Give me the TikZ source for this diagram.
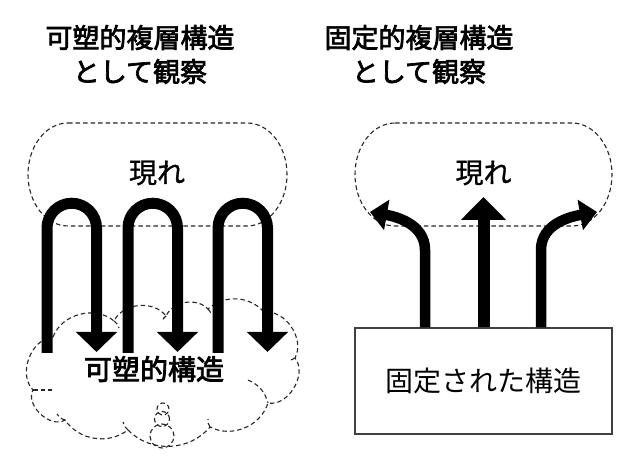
\documentclass[tikz,border=0pt]{standalone}
\usepackage{fontspec}
\newfontfamily\cjk{Noto Sans CJK JP}
\newcommand\embold[2]{\special{pdf:literal direct 2 Tr #1 w}#2\special{pdf:literal direct 0 Tr}}
\usetikzlibrary{arrows.meta}
\begin{document}
\begin{tikzpicture}[x=1pt,y=1pt,
  dashln/.style={draw=black!85, line width=1.1pt, dash pattern=on 4.5pt off 3pt},
  titletxt/.style={align=center, inner sep=0pt, font=\cjk\fontsize{27}{34}\selectfont},
  lbl/.style={inner sep=0pt, font=\cjk\fontsize{28}{34}\selectfont},
  looparrow/.style={line width=11pt, -{Triangle[width=40pt,length=20pt]}},
  uparrow/.style={line width=12pt, -{Triangle[width=44pt,length=23pt]}},
  sidearrow/.style={line width=10.5pt, -{Triangle[width=30pt,length=17pt]}},
  fixbox/.style={draw=black!75, line width=1.2pt, fill=white, minimum width=257pt, minimum height=106pt, inner sep=0pt, font=\cjk\fontsize{28}{34}\selectfont}
]
\useasboundingbox (0,0) rectangle (640,462);

% titles
\node[titletxt] (t1) at (140,407.5) {\embold{0.7}{可塑的複層構造}\\\embold{0.7}{として観察}};
\node[titletxt] (t2) at (419,407.5) {\embold{0.7}{固定的複層構造}\\\embold{0.7}{として観察}};

% emergence regions
\draw[dashln] (68,339) -- (247,339) arc[start angle=90,end angle=-90,x radius=40,y radius=51.5] -- (68,236) arc[start angle=270,end angle=90,x radius=40,y radius=51.5] -- cycle;
\draw[dashln] (395,339) -- (572,339) arc[start angle=90,end angle=-90,x radius=40,y radius=51.5] -- (395,236) arc[start angle=270,end angle=90,x radius=40,y radius=51.5] -- cycle;
\node[lbl] (em1) at (157,289) {\embold{0.3}{現れ}};
\node[lbl] (em2) at (483.5,289) {\embold{0.3}{現れ}};

% cloud
\coordinate (j1) at (53,125);
\coordinate (j2) at (114,141);
\coordinate (j3) at (166,146);
\coordinate (j4) at (208,153);
\coordinate (j5) at (264,150);
\coordinate (j6) at (295,104);
\coordinate (j7) at (268,59);
\coordinate (j8) at (210,35);
\coordinate (j10) at (128,32);
\coordinate (j11) at (65,42);
\coordinate (j12) at (33,72);
\draw[dashln] (j1) to[bend left=55] (j2) to[bend left=58] (j3) to[bend left=55] (j4)
  to[bend left=45] (j5) to[bend left=62] (j6) to[bend left=70] (j7) to[bend left=50] (j8)
  to[bend left=48] (j10) to[bend left=46] (j11) to[bend left=75] (j12) to[bend left=65] (j1);
% inner hooks
\draw[dashln] (j2) to[bend left=20] ++(5,-7);
\draw[dashln] (j3) to[bend right=20] ++(-4,-6);
\draw[dashln] (j4) to[bend left=20] ++(3,-6);
\draw[dashln] (j6) to[bend left=20] ++(-7,-2);
\draw[dashln] (248,82) to[bend left=25] (j7);
\draw[dashln] (j8) to[bend left=20] ++(-2,8);
\draw[dashln] (j10) to[bend left=20] ++(-5,8);
\draw[dashln] (j11) to[bend left=20] ++(-8,6);
\draw[dashln] (j12) -- ++(19,0);
% thought circles
\draw[dashln] (163,53) circle[radius=6];
\draw[dashln] (162,43) circle[radius=7.5];
\draw[dashln] (162,26) circle[radius=12];

\node[lbl] (plastic) at (154,93) {\embold{0.8}{可塑的構造}};

% loops
\coordinate (l1a) at (47,109);  \coordinate (l1b) at (96.5,110);
\coordinate (l2a) at (128,109); \coordinate (l2b) at (177.5,110);
\coordinate (l3a) at (218,109); \coordinate (l3b) at (267.5,110);
\draw[looparrow] (l1a) -- (47,234) arc[start angle=180,end angle=0,radius=24.75] -- (l1b);
\draw[looparrow] (l2a) -- (128,234) arc[start angle=180,end angle=0,radius=24.75] -- (l2b);
\draw[looparrow] (l3a) -- (218,234) arc[start angle=180,end angle=0,radius=24.75] -- (l3b);

% fixed structure
\node[fixbox] (fixed) at (483.5,81) {固定された構造};
\coordinate (ctip) at (483.5,265);
\coordinate (ltip) at (370,250);
\coordinate (rtip) at (597,250);
\draw[uparrow] (fixed.north) -- (ctip);
\draw[sidearrow] (fixed.north -| 425,0) -- (425,212) to[out=90,in=-10] (ltip);
\draw[sidearrow] (fixed.north -| 541,0) -- (541,212) to[out=90,in=190] (rtip);
\end{tikzpicture}
\end{document}
